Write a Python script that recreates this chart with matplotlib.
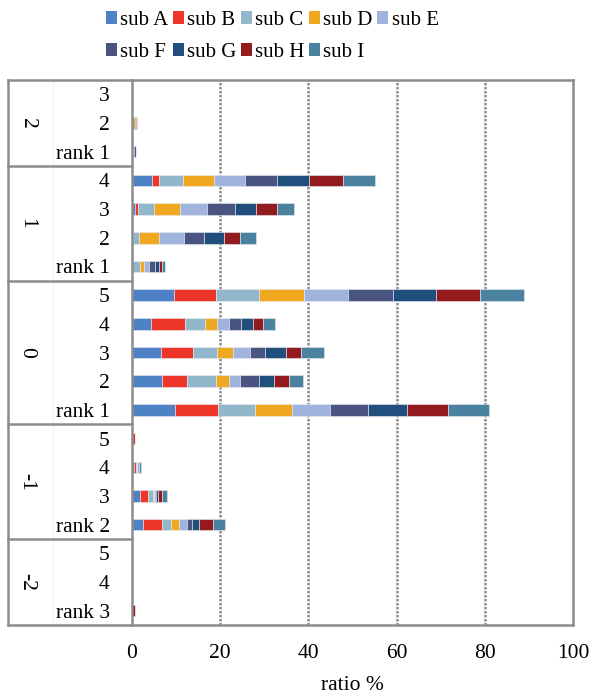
import numpy as np
import matplotlib.pyplot as plt
from matplotlib.patches import Patch

plt.rcParams['font.family'] = ['Liberation Serif', 'DejaVu Serif']

# row labels, top to bottom
groups = ['2', '1', '0', '-1', '-2']
group_rows = [['3', '2', 'rank 1'],
              ['4', '3', '2', 'rank 1'],
              ['5', '4', '3', '2', 'rank 1'],
              ['5', '4', '3', 'rank 2'],
              ['5', '4', 'rank 3']]

series = ['sub A', 'sub B', 'sub C', 'sub D', 'sub E',
          'sub F', 'sub G', 'sub H', 'sub I']
colors = ['#4f81c6', '#ed3629', '#92b6ca', '#f0a821', '#a0b3dd',
          '#4a5480', '#214f7d', '#931b1e', '#4a82a0']

# values (ratio %), one list per sub, rows top to bottom
sub_A = [0, 0, 0, 4.6, 0.6, 0.1, 0, 9.6, 4.4, 6.6, 6.7, 9.7, 0.05, 0.4, 1.9, 2.5, 0, 0, 0]
sub_B = [0, 0, 0, 1.6, 0.8, 0.2, 0, 9.5, 7.7, 7.3, 5.7, 9.9, 0.6, 0.4, 1.7, 4.2, 0, 0, 0]
sub_C = [0, 0, 0, 5.3, 3.5, 1.3, 1.8, 9.8, 4.4, 5.3, 6.6, 8.2, 0, 0.4, 1.1, 2.1, 0, 0, 0]
sub_D = [0, 0.6, 0.2, 7.2, 6.0, 4.5, 0.9, 10.1, 2.7, 3.8, 2.9, 8.5, 0, 0, 0.3, 1.9, 0, 0, 0]
sub_E = [0, 0, 0.3, 7.0, 6.2, 5.7, 1.1, 10.0, 2.9, 3.8, 2.6, 8.6, 0, 0.5, 0.3, 1.7, 0, 0, 0]
sub_F = [0, 0.2, 0.3, 7.2, 6.3, 4.5, 1.5, 10.1, 2.7, 3.4, 4.2, 8.7, 0, 0, 0.2, 1.1, 0, 0, 0]
sub_G = [0, 0, 0, 7.2, 4.7, 4.5, 0.9, 9.9, 2.7, 4.7, 3.6, 8.8, 0, 0, 0.4, 1.7, 0, 0, 0]
sub_H = [0, 0.3, 0, 7.8, 4.8, 3.6, 0.6, 10.0, 2.2, 3.5, 3.2, 9.3, 0, 0, 1.0, 3.1, 0, 0, 0.6]
sub_I = [0, 0.1, 0.2, 7.1, 3.8, 3.7, 0.6, 10.0, 2.7, 5.2, 3.3, 9.3, 0, 0.3, 1.1, 2.8, 0, 0, 0]
values = [sub_A, sub_B, sub_C, sub_D, sub_E, sub_F, sub_G, sub_H, sub_I]

row_labels = [r for g in group_rows for r in g]
n = len(row_labels)
ypos = np.arange(n)
frame_c = '#8c8c8c'

fig = plt.figure(figsize=(5.91, 6.95), dpi=100)
ax = fig.add_axes([132 / 591, 1 - 625 / 695, 441 / 591, 545 / 695])

left = np.zeros(n)
for vals, c, name in zip(values, colors, series):
    vals = np.array(vals, dtype=float)
    ax.barh(ypos, vals, left=left, height=0.4, color=c, label=name,
            edgecolor='#e6ecf2', linewidth=0.4)
    left += vals

ax.set_xlim(0, 100)
ax.set_ylim(n - 0.5, -0.5)
ax.set_xticks([0, 20, 40, 60, 80, 100])
ax.set_yticks(ypos)
ax.set_yticklabels(row_labels)
ax.tick_params(axis='both', length=0, labelsize=15.5)
ax.tick_params(axis='y', pad=16)
ax.tick_params(axis='x', pad=14)
ax.set_xlabel('ratio %', fontsize=15.5, labelpad=9)

for x in [20, 40, 60, 80]:
    ax.axvline(x, color=frame_c, linestyle=(0, (1, 0.6)), linewidth=1.8, zorder=0)

for s in ax.spines.values():
    s.set_color(frame_c)
    s.set_linewidth(1.8)

# outer frame of the grouped axis
xl = (8 - 132) / 441
xf = (53 - 132) / 441
tr = ax.get_yaxis_transform()
ax.plot([xl, xl], [-0.5, n - 0.5], color=frame_c, lw=1.8, transform=tr, clip_on=False)
ax.plot([xf, xf], [-0.5, n - 0.5], color='#f0f0f0', lw=0.6, transform=tr, clip_on=False)
start = 0
borders = [-0.5]
for g, rows in zip(groups, group_rows):
    mid = start + (len(rows) - 1) / 2
    ax.text((27 - 132) / 441, mid, g, rotation=-90, ha='center', va='center',
            fontsize=15.5, transform=tr)
    start += len(rows)
    borders.append(start - 0.5)
for b in borders:
    ax.plot([xl, 0], [b, b], color=frame_c, lw=1.8, transform=tr, clip_on=False)

# legend, filled row by row
order = [0, 5, 1, 6, 2, 7, 3, 8, 4]
handles = [Patch(facecolor=colors[i], edgecolor='none') for i in order]
labels = [series[i] for i in order]
fig.legend(handles, labels, loc='upper left', bbox_to_anchor=(91 / 591, 1.005),
           ncol=5, frameon=False, fontsize=15, handlelength=0.55, handleheight=0.55,
           handletextpad=0.15, columnspacing=0.2, labelspacing=0.6, borderpad=0.2)

plt.savefig('out.png')
